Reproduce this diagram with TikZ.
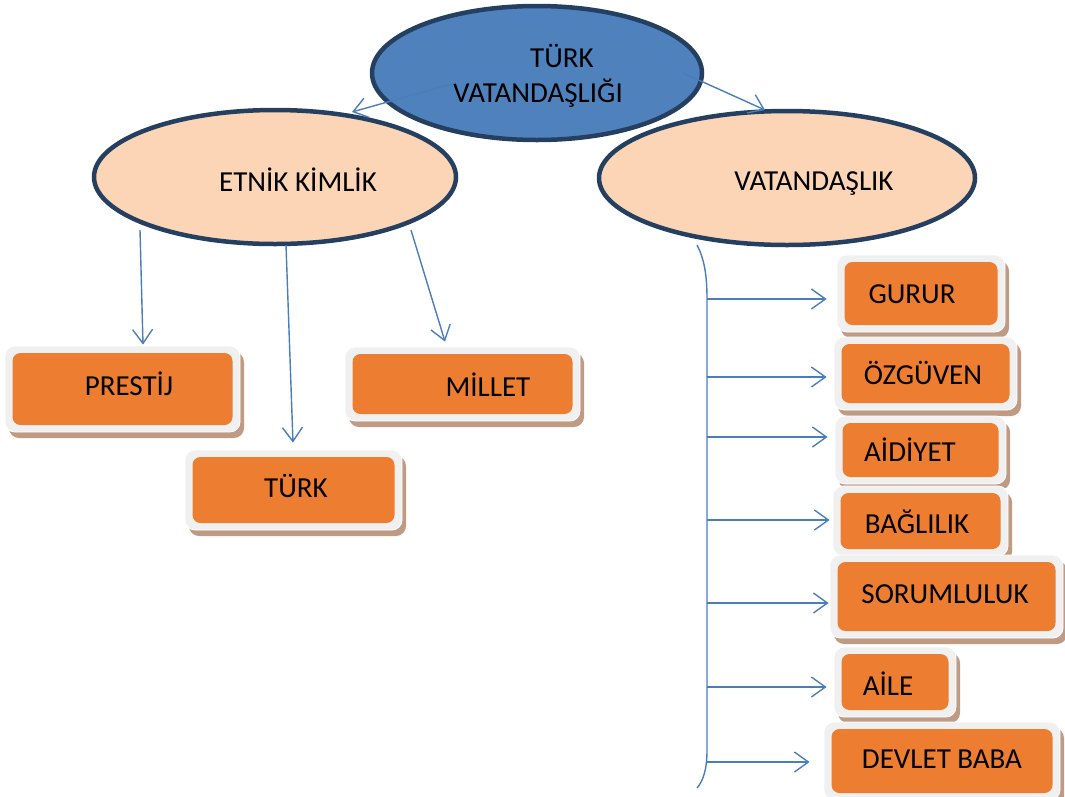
\documentclass[tikz,border=0pt]{standalone}
\usepackage{fontspec}
\setmainfont{Carlito}
\usetikzlibrary{arrows.meta,shapes.geometric}
\definecolor{topblue}{HTML}{4F81BD}
\definecolor{darkrim}{HTML}{243F60}
\definecolor{peach}{HTML}{FBD5B5}
\definecolor{orangefill}{HTML}{ED7D31}
\definecolor{shadowc}{HTML}{C09B84}
\definecolor{framegray}{HTML}{F0F0F0}
\definecolor{linkblue}{HTML}{4A7EBB}
\tikzset{
  ell/.style={ellipse, draw=darkrim, line width=4.5pt, inner sep=0pt},
  outerbox/.style={rectangle, rounded corners=10pt, fill=framegray, draw=white, line width=0.8pt, inner sep=0pt},
  innerbox/.style={rectangle, rounded corners=8pt, fill=orangefill, inner sep=0pt},
  lbl/.style={anchor=base, inner sep=0pt, font=\fontsize{29}{35}\selectfont, text=black},
  arr/.style={draw=linkblue, line width=1.4pt, -{Straight Barb[length=14pt,width=20pt,line width=1.4pt]}},
  brace/.style={draw=linkblue, line width=1.4pt}
}
\newcommand\obox[5]{%
  \fill[shadowc, rounded corners=10pt] (#2+4,#3+6) rectangle (#4+4,#5+6);
  \node[outerbox, minimum width={#4-#2}, minimum height={#5-#3}] (#1) at ({(#2+#4)/2},{(#3+#5)/2}) {};
  \node[innerbox, minimum width={#4-#2-15}, minimum height={#5-#3-14}] (#1-in) at (#1.center) {};
}
\begin{document}
\begin{tikzpicture}[x=1pt,y=-1pt]
\useasboundingbox (0,0) rectangle (1065,796);
% ellipses
\node[ell, fill=peach, minimum width=362pt, minimum height=134pt] (etnik) at (275,177) {};
\node[ell, fill=peach, minimum width=376pt, minimum height=134pt] (vat) at (787,178) {};
\node[ell, fill=topblue, minimum width=330pt, minimum height=134pt] (top) at (537,73) {};
\node[lbl] (top-t1) at (562,67) {TÜRK};
\node[lbl] (top-t2) at (538,102) {VATANDAŞLIĞI};
\node[lbl] (etnik-t) at (298,191) {ETNİK KİMLİK};
\node[lbl] (vat-t) at (814,190) {VATANDAŞLIK};
% arrows from top
\draw[arr] ([shift={(-82,10)}]top.center) -- ([shift={(77,-65)}]etnik.center);
\draw[arr] ([shift={(146,0)}]top.center) -- ([shift={(-22,-68)}]vat.center);
% boxes left
\obox{prestij}{5}{346}{240}{432}
\node[lbl] at (129,395) {PRESTİJ};
\obox{turk}{185}{450}{402}{530}
\node[lbl] at (296,497) {TÜRK};
\obox{millet}{345}{347}{580}{421}
\node[lbl] at (488,396) {MİLLET};
% arrows from etnik
\draw[arr] ([shift={(-135,53)}]etnik.center) -- ([shift={(143-122.5,-1)}]prestij.north);
\draw[arr] ([shift={(11,68)}]etnik.center) -- ([shift={(293-293.5,-7)}]turk.north);
\draw[arr] ([shift={(136,53)}]etnik.center) -- ([shift={(445-462.5,-5)}]millet.north);
% boxes right
\obox{gurur}{837}{255}{1005}{332}
\node[lbl] at (912,303) {GURUR};
\obox{ozguven}{834}{337}{1017}{410}
\node[lbl] at (923,384) {ÖZGÜVEN};
\obox{aidiyet}{835}{416}{1006}{484}
\node[lbl] at (910,461) {AİDİYET};
\obox{bag}{833}{486}{1008}{556}
\node[lbl] at (917,533) {BAĞLILIK};
\obox{sorum}{830}{555}{1063}{638}
\node[lbl] at (945,603) {SORUMLULUK};
\obox{aile}{834}{647}{956}{717}
\node[lbl] at (888,695) {AİLE};
\obox{devlet}{824}{722}{1060}{800}
\node[lbl] at (942,768) {DEVLET BABA};
% brace
\coordinate (btop) at (697,245);
\coordinate (bbot) at (697,788);
\draw[brace] (btop) .. controls (706,262) and (707,282) .. (707,300) -- (707,750) .. controls (707,770) and (703,781) .. (bbot);
\coordinate (s1) at (707,299);
\coordinate (s2) at (707,377);
\coordinate (s3) at (707,437);
\coordinate (s4) at (707,520);
\coordinate (s5) at (707,603);
\coordinate (s6) at (707,687);
\coordinate (s7) at (707,762);
\draw[arr, shorten >=10pt] (s1) -- (s1 -| gurur.west);
\draw[arr, shorten >=7pt] (s2) -- (s2 -| ozguven.west);
\draw[arr, shorten >=7pt] (s3) -- (s3 -| aidiyet.west);
\draw[arr, shorten >=3pt] (s4) -- (s4 -| bag.west);
\draw[arr, shorten >=1pt] (s5) -- (s5 -| sorum.west);
\draw[arr, shorten >=7pt] (s6) -- (s6 -| aile.west);
\draw[arr, shorten >=14pt] (s7) -- (s7 -| devlet.west);
\end{tikzpicture}
\end{document}
